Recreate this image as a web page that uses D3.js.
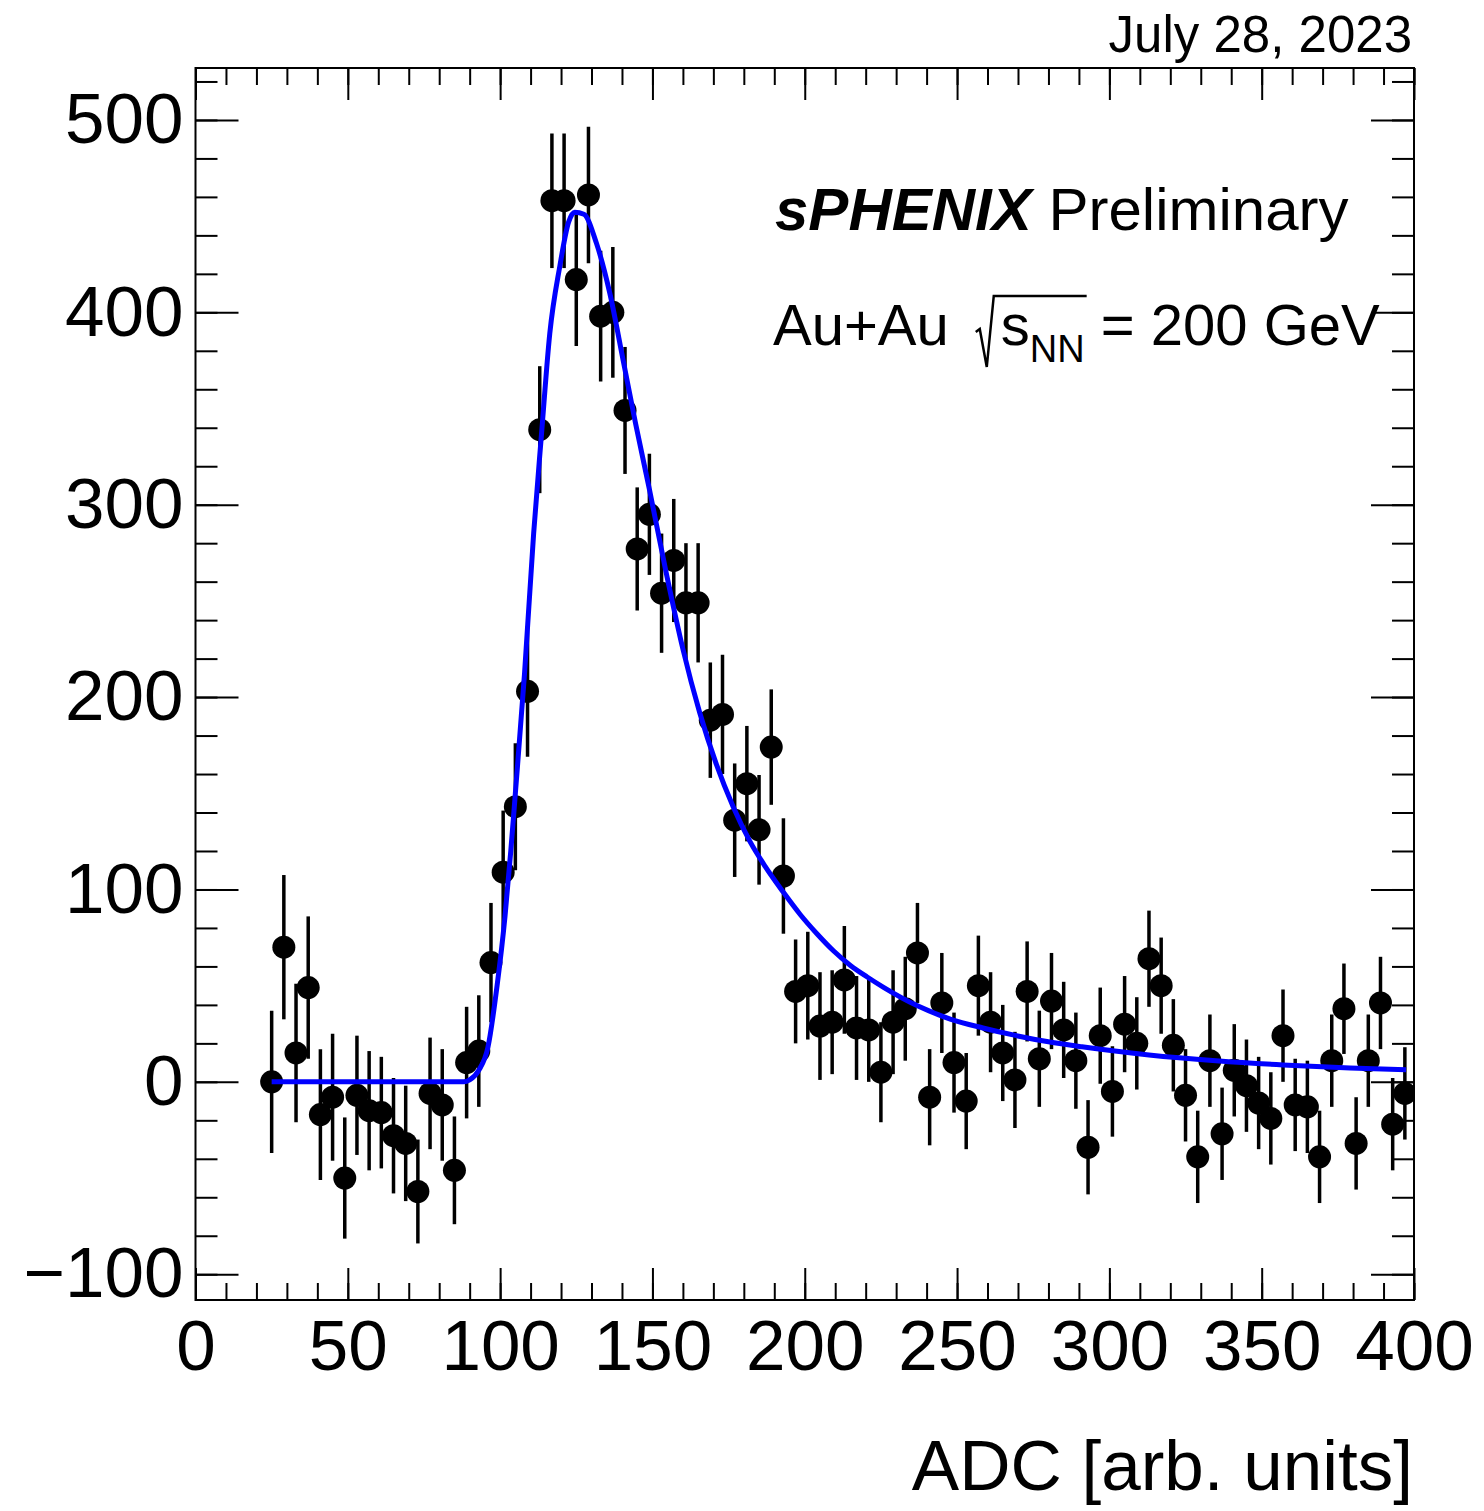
<!DOCTYPE html>
<html>
<head>
<meta charset="utf-8">
<script src="https://cdn.jsdelivr.net/npm/d3@7"></script>
<style>
  body { margin: 0; background: #fff; }
  svg text { font-family: "Liberation Sans", Arial, Helvetica, sans-serif; fill: #000; }
</style>
</head>
<body>
<div id="chart"></div>
<script>
// bin centres (ADC), 4 units wide
const adc = d3.range(25, 398, 4);
// background-subtracted counts per bin
const counts = [
  0, 70, 15, 49, -17, -8, -50, -7, -15, -16,
  -28, -32, -57, -6, -12, -46, 10, 16, 62, 109,
  143, 203, 339, 458, 458, 417, 461, 398, 400, 349,
  277, 295, 254, 271, 249, 249, 188, 191, 136, 155,
  131, 174, 107, 47, 50, 29, 31, 53, 28, 27,
  5, 31, 38, 67, -8, 41, 10, -10, 50, 31,
  15, 1, 47, 12, 42, 27, 11, -34, 24, -5,
  30, 20, 64, 50, 19, -7, -39, 11, -27, 6,
  -2, -11, -19, 24, -12, -13, -39, 11, 38, -32,
  11, 41, -22, -6
];
// statistical errors
const errors = [
  37, 37.5, 36, 37, 34, 33, 31.5, 31, 31, 29,
  30, 30, 27, 29, 29, 28, 29, 29, 31, 32,
  33, 34, 33, 35, 35, 34.5, 35.5, 34, 34, 33,
  32, 31.5, 31, 32, 31, 31, 30, 31, 29.5, 30,
  28.5, 30, 30, 27, 28, 28, 27, 28, 27, 27,
  26, 27, 27, 26, 25, 26, 26, 25, 26, 26,
  25, 25, 26, 25, 25, 25, 25, 24.5, 25, 23.5,
  25, 24, 25, 25, 24, 24, 24, 24, 24, 24,
  24, 24, 24, 24, 24, 24, 24, 24, 23.5, 24,
  24, 24, 24, 24
];
// fitted function
const fitX = [25, 88, 90, 93, 96, 99, 101.6, 103.5, 105, 108, 111, 113.6, 116.3, 119.6, 122.5, 124.5, 127.5,
  131.6, 136, 140.4, 144.5, 149, 154.6, 160, 165.5, 171, 176.5, 182, 187, 193, 198.5, 204, 209.5,
  215, 220.5, 226, 237, 248, 258.5, 269.5, 280, 291, 313, 335, 357, 379, 397.4];
const fitY = [0, 0, 1, 6, 18, 50, 86, 120, 150, 212, 285, 337, 389, 424, 447, 452, 451,
  436, 410, 375, 342, 308, 264, 225, 192, 165, 143, 125, 112, 98.5, 87, 77, 68,
  60.5, 54.5, 49, 39.5, 32.5, 28, 24, 20.8, 18.2, 14, 11, 8.8, 7.2, 6.3];

const xMajor = d3.range(0, 401, 50);
const xMinor = d3.range(0, 401, 10);
const yMajor = d3.range(-100, 501, 100);
const yMinor = d3.range(-100, 521, 20);

const W = 1484, H = 1511;
const frame = { left: 195.5, right: 1414, top: 68, bottom: 1300 };

const svg = d3.select("#chart").append("svg")
  .attr("width", W).attr("height", H);

const x = d3.scaleLinear().domain([0, 400]).range([frame.left, frame.right]);
const y = d3.scaleLinear().domain([-113.4, 527]).range([frame.bottom, frame.top]);

svg.append("clipPath").attr("id", "clip")
  .append("rect").attr("x", frame.left).attr("y", frame.top)
  .attr("width", frame.right - frame.left).attr("height", frame.bottom - frame.top);

// axes: ticks pointing inward on all four sides
function styleAxis(g) {
  g.select(".domain").remove();
  g.selectAll(".tick line").attr("stroke", "#000").attr("stroke-width", 2);
  g.selectAll(".tick text").attr("font-size", 71).attr("fill", "#000");
}
svg.append("g").attr("transform", `translate(0,${frame.bottom})`)
  .call(d3.axisBottom(x).tickValues(xMinor).tickSize(-17).tickFormat("")).call(styleAxis);
svg.append("g").attr("transform", `translate(0,${frame.bottom})`)
  .call(d3.axisBottom(x).tickValues(xMajor).tickSize(-32).tickPadding(20).tickFormat(d3.format("d")))
  .call(styleAxis);
svg.append("g").attr("transform", `translate(0,${frame.top})`)
  .call(d3.axisTop(x).tickValues(xMinor).tickSize(-17).tickFormat("")).call(styleAxis);
svg.append("g").attr("transform", `translate(0,${frame.top})`)
  .call(d3.axisTop(x).tickValues(xMajor).tickSize(-32).tickFormat("")).call(styleAxis);

svg.append("g").attr("transform", `translate(${frame.left},0)`)
  .call(d3.axisLeft(y).tickValues(yMinor).tickSize(-22).tickFormat("")).call(styleAxis);
svg.append("g").attr("transform", `translate(${frame.left},0)`)
  .call(d3.axisLeft(y).tickValues(yMajor).tickSize(-43).tickPadding(12).tickFormat(d3.format("d")))
  .call(styleAxis);
svg.append("g").attr("transform", `translate(${frame.right},0)`)
  .call(d3.axisRight(y).tickValues(yMinor).tickSize(-22).tickFormat("")).call(styleAxis);
svg.append("g").attr("transform", `translate(${frame.right},0)`)
  .call(d3.axisRight(y).tickValues(yMajor).tickSize(-43).tickFormat("")).call(styleAxis);

// frame
svg.append("rect")
  .attr("x", frame.left).attr("y", frame.top)
  .attr("width", frame.right - frame.left).attr("height", frame.bottom - frame.top)
  .attr("fill", "none").attr("stroke", "#000").attr("stroke-width", 2);

const data = adc.map((a, i) => ({ x: a, y: counts[i], e: errors[i] }));

const plot = svg.append("g").attr("clip-path", "url(#clip)");

// error bars
plot.selectAll(".err")
  .data(data)
  .enter().append("line")
  .attr("class", "err")
  .attr("x1", d => x(d.x)).attr("x2", d => x(d.x))
  .attr("y1", d => y(d.y - d.e)).attr("y2", d => y(d.y + d.e))
  .attr("stroke", "#000").attr("stroke-width", 3.5);

// markers
plot.selectAll(".dot")
  .data(data)
  .enter().append("circle")
  .attr("class", "dot")
  .attr("cx", d => x(d.x)).attr("cy", d => y(d.y))
  .attr("r", 11.5)
  .attr("fill", "#000");

// fit
const fit = fitX.map((v, i) => [v, fitY[i]]);
const fitLine = d3.line()
  .x(d => x(d[0])).y(d => y(d[1]))
  .curve(d3.curveMonotoneX);
plot.append("path")
  .datum(fit)
  .attr("d", fitLine)
  .attr("fill", "none")
  .attr("stroke", "#0000ff")
  .attr("stroke-width", 5);

// date
svg.append("text")
  .attr("x", 1412).attr("y", 52)
  .attr("text-anchor", "end")
  .attr("font-size", 51)
  .text("July 28, 2023");

// x axis title
svg.append("text")
  .attr("x", 1413).attr("y", 1490)
  .attr("text-anchor", "end")
  .attr("font-size", 71)
  .text("ADC [arb. units]");

// labels
const lab = svg.append("text")
  .attr("x", 775).attr("y", 230)
  .attr("font-size", 60);
lab.append("tspan").attr("font-weight", "bold").attr("font-style", "italic").text("sPHENIX");
lab.append("tspan").text(" Preliminary");

// Au+Au sqrt(s_NN) = 200 GeV, radical drawn as a path
const energy = svg.append("text")
  .attr("x", 773).attr("y", 345)
  .attr("font-size", 58);
energy.append("tspan").text("Au+Au");
energy.append("tspan").attr("dx", 52).text("s");
energy.append("tspan").attr("font-size", 38).attr("dy", 17).text("NN");
energy.append("tspan").attr("dy", -17).text(" = 200 GeV");

const node = energy.node();
const sx = node.getStartPositionOfChar(5).x;
const nnEnd = node.getEndPositionOfChar(7).x;
svg.append("path")
  .attr("d", `M${sx - 25},332 L${sx - 21},329 L${sx - 14},367 L${sx - 7},296 L${nnEnd + 2},296`)
  .attr("fill", "none")
  .attr("stroke", "#000")
  .attr("stroke-width", 2.5)
  .attr("stroke-linejoin", "miter");
</script>
</body>
</html>
